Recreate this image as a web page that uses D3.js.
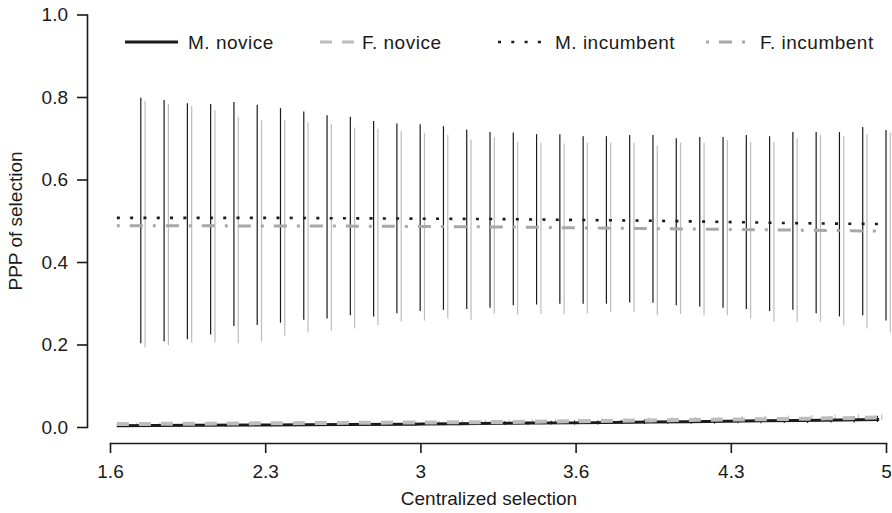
<!DOCTYPE html>
<html>
<head>
<meta charset="utf-8">
<script src="https://cdn.jsdelivr.net/npm/d3@7"></script>
<style>
  body { margin: 0; background: #fff; }
  svg { display: block; font-family: "Liberation Sans", Arial, sans-serif; }
  .axis text { font-size: 19px; fill: #1a1a1a; }
  .axis path, .axis line { stroke: #1a1a1a; stroke-width: 1.6; }
</style>
</head>
<body>
<svg width="892" height="513"></svg>
<script>
// x positions of the interval pairs (centralized selection)
var barX = [1.735, 1.837, 1.939, 2.041, 2.143, 2.245, 2.347, 2.449, 2.551, 2.653, 2.755,
            2.857, 2.959, 3.061, 3.163, 3.265, 3.367, 3.469, 3.571, 3.673, 3.775, 3.877,
            3.979, 4.081, 4.184, 4.286, 4.388, 4.490, 4.592, 4.694, 4.796, 4.898, 5.000];

// incumbent intervals (M = dark, F = light)
var mIncHi = [0.798, 0.793, 0.785, 0.783, 0.788, 0.781, 0.773, 0.765, 0.756, 0.752, 0.742,
              0.736, 0.734, 0.729, 0.721, 0.715, 0.714, 0.710, 0.710, 0.705, 0.705, 0.708,
              0.708, 0.700, 0.703, 0.703, 0.708, 0.705, 0.715, 0.715, 0.715, 0.727, 0.720];
var mIncLo = [0.203, 0.208, 0.213, 0.224, 0.245, 0.247, 0.253, 0.260, 0.263, 0.271, 0.268,
              0.276, 0.281, 0.284, 0.286, 0.289, 0.295, 0.297, 0.299, 0.299, 0.299, 0.302,
              0.301, 0.295, 0.292, 0.289, 0.286, 0.281, 0.284, 0.276, 0.268, 0.271, 0.258];
var fIncHi = [0.791, 0.783, 0.778, 0.768, 0.752, 0.744, 0.744, 0.739, 0.734, 0.726, 0.723,
              0.718, 0.713, 0.708, 0.697, 0.703, 0.691, 0.689, 0.687, 0.689, 0.689, 0.689,
              0.682, 0.689, 0.689, 0.695, 0.691, 0.691, 0.700, 0.708, 0.705, 0.710, 0.714];
var fIncLo = [0.193, 0.198, 0.204, 0.205, 0.203, 0.208, 0.221, 0.229, 0.234, 0.239, 0.247,
              0.255, 0.258, 0.263, 0.260, 0.274, 0.272, 0.274, 0.274, 0.276, 0.279, 0.279,
              0.271, 0.274, 0.271, 0.271, 0.263, 0.255, 0.255, 0.255, 0.246, 0.239, 0.229];

// novice intervals (small)
var mNovLo = [0.001, 0.001, 0.001, 0.001, 0.001, 0.002, 0.002, 0.002, 0.002, 0.003, 0.003,
              0.003, 0.004, 0.004, 0.004, 0.005, 0.005, 0.005, 0.006, 0.006, 0.006, 0.007,
              0.007, 0.008, 0.008, 0.008, 0.009, 0.009, 0.010, 0.010, 0.011, 0.011, 0.012];
var mNovHi = [0.006, 0.006, 0.007, 0.007, 0.007, 0.008, 0.008, 0.009, 0.009, 0.010, 0.010,
              0.011, 0.011, 0.012, 0.012, 0.013, 0.014, 0.014, 0.015, 0.016, 0.016, 0.017,
              0.018, 0.019, 0.019, 0.020, 0.021, 0.022, 0.023, 0.024, 0.025, 0.026, 0.027];
var fNovLo = [0.003, 0.003, 0.003, 0.004, 0.004, 0.004, 0.005, 0.005, 0.005, 0.006, 0.006,
              0.006, 0.007, 0.007, 0.008, 0.008, 0.008, 0.009, 0.009, 0.010, 0.010, 0.011,
              0.011, 0.012, 0.012, 0.013, 0.013, 0.014, 0.014, 0.015, 0.016, 0.016, 0.017];
var fNovHi = [0.010, 0.010, 0.011, 0.011, 0.011, 0.012, 0.012, 0.013, 0.013, 0.014, 0.014,
              0.015, 0.016, 0.016, 0.017, 0.018, 0.018, 0.019, 0.020, 0.021, 0.021, 0.022,
              0.023, 0.024, 0.024, 0.025, 0.026, 0.027, 0.028, 0.029, 0.030, 0.031, 0.032];

// point estimate curves
var lineX   = [1.63, 1.96, 2.30, 2.63, 2.97, 3.30, 3.63, 3.97, 4.30, 4.63, 4.97];
var mNovice = [0.003, 0.004, 0.005, 0.006, 0.007, 0.009, 0.010, 0.012, 0.014, 0.016, 0.018];
var fNovice = [0.007, 0.008, 0.009, 0.010, 0.011, 0.012, 0.014, 0.016, 0.018, 0.020, 0.023];
var mIncumb = [0.507, 0.507, 0.507, 0.506, 0.505, 0.504, 0.502, 0.500, 0.497, 0.494, 0.492];
var fIncumb = [0.488, 0.488, 0.487, 0.487, 0.486, 0.485, 0.483, 0.481, 0.479, 0.477, 0.475];

var xTicks      = [1.6, 2.28, 2.96, 3.64, 4.32, 5.0];
var xTickLabels = ["1.6", "2.3", "3", "3.6", "4.3", "5"];
var yTicks      = [0, 0.2, 0.4, 0.6, 0.8, 1.0];
var legendNames = ["M. novice", "F. novice", "M. incumbent", "F. incumbent"];

var svg = d3.select("svg");

var x = d3.scaleLinear().domain([1.6, 5]).range([110, 886]);
var y = d3.scaleLinear().domain([0, 1]).range([427, 14.5]);

var dark = "#1a1a1a", light = "#bdbdbd", mid = "#a8a8a8";

// intervals: dodge within each group
function bars(lo, hi, dx, color, w) {
  svg.append("g").selectAll("line")
    .data(barX)
    .enter().append("line")
      .attr("x1", function(d) { return x(d) + dx; })
      .attr("x2", function(d) { return x(d) + dx; })
      .attr("y1", function(d, i) { return y(lo[i]); })
      .attr("y2", function(d, i) { return y(hi[i]); })
      .attr("stroke", color)
      .attr("stroke-width", w);
}
bars(mNovLo, mNovHi, -8.6, dark, 1.1);
bars(fNovLo, fNovHi, -4.3, light, 1.1);
bars(mIncLo, mIncHi, 0, dark, 1.2);
bars(fIncLo, fIncHi, 4.3, light, 1.2);

var line = d3.line()
  .x(function(d) { return x(d[0]); })
  .y(function(d) { return y(d[1]); })
  .curve(d3.curveMonotoneX);

var series = [
  { vals: mNovice, color: dark,  width: 3,   dash: null },
  { vals: fNovice, color: light, width: 4,   dash: "12,10" },
  { vals: mIncumb, color: dark,  width: 2.6, dash: "3,10.3" },
  { vals: fIncumb, color: mid,   width: 3,   dash: "3,10,13,10" }
];

series.forEach(function(s) {
  svg.append("path")
    .datum(d3.zip(lineX, s.vals))
    .attr("fill", "none")
    .attr("stroke", s.color)
    .attr("stroke-width", s.width)
    .attr("stroke-dasharray", s.dash)
    .attr("d", line);
});

// axes
svg.append("g")
  .attr("class", "axis")
  .attr("transform", "translate(87,0)")
  .call(d3.axisLeft(y).tickValues(yTicks).tickFormat(d3.format(".1f"))
          .tickSize(10).tickSizeOuter(0).tickPadding(9));

svg.append("g")
  .attr("class", "axis")
  .attr("transform", "translate(0,443)")
  .call(d3.axisBottom(x).tickValues(xTicks)
          .tickFormat(function(d, i) { return xTickLabels[i]; })
          .tickSize(10).tickSizeOuter(0).tickPadding(12));

svg.selectAll(".axis .domain").attr("stroke-linecap", "square");

svg.append("text")
  .attr("x", 489).attr("y", 505)
  .attr("text-anchor", "middle")
  .style("font-size", "19px").attr("fill", dark)
  .text("Centralized selection");

svg.append("text")
  .attr("transform", "translate(22,221) rotate(-90)")
  .attr("text-anchor", "middle")
  .style("font-size", "19px").attr("fill", dark)
  .text("PPP of selection");

// legend
var legendPos = [
  { x1: 125, x2: 178, tx: 188 },
  { x1: 320, x2: 355, tx: 362 },
  { x1: 498, x2: 546, tx: 555 },
  { x1: 706, x2: 752, tx: 760 }
];
var leg = svg.append("g").selectAll("g")
  .data(legendNames)
  .enter().append("g");

leg.append("line")
  .attr("x1", function(d, i) { return legendPos[i].x1; })
  .attr("x2", function(d, i) { return legendPos[i].x2; })
  .attr("y1", 42).attr("y2", 42)
  .attr("stroke", function(d, i) { return series[i].color; })
  .attr("stroke-width", function(d, i) { return i == 1 ? 3 : series[i].width; })
  .attr("stroke-dasharray", function(d, i) { return series[i].dash; });

leg.append("text")
  .attr("x", function(d, i) { return legendPos[i].tx; })
  .attr("y", 42).attr("dy", "0.35em")
  .style("font-size", "19px").style("letter-spacing", "0.5px").attr("fill", dark)
  .text(function(d) { return d; });
</script>
</body>
</html>
